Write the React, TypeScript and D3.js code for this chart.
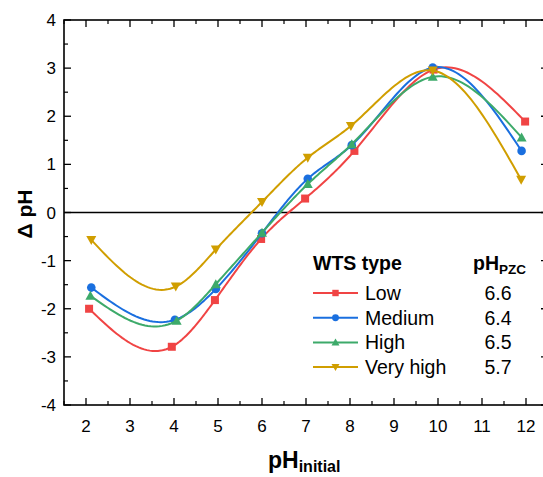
import React from "react";
import * as d3 from "d3";

const xLow = [2.07, 3.95, 4.93, 5.98, 6.98, 8.1, 9.9, 11.98];
const yLow = [-2.0, -2.79, -1.82, -0.55, 0.29, 1.28, 2.97, 1.89];
const xMed = [2.12, 4.02, 4.95, 6.0, 7.04, 8.04, 9.88, 11.9];
const yMed = [-1.56, -2.23, -1.59, -0.43, 0.7, 1.4, 3.01, 1.28];
const xHigh = [2.1, 4.06, 4.95, 6.0, 7.04, 8.04, 9.88, 11.9];
const yHigh = [-1.73, -2.25, -1.49, -0.42, 0.59, 1.42, 2.82, 1.56];
const xVH = [2.12, 4.04, 4.95, 6.0, 7.04, 8.02, 9.88, 11.89];
const yVH = [-0.57, -1.54, -0.77, 0.22, 1.14, 1.8, 2.95, 0.68];

const seriesNames = ["Low", "Medium", "High", "Very high"];
const pzcValues = ["6.6", "6.4", "6.5", "5.7"];
const colors = ["#F04444", "#1A6FDF", "#3DAA6A", "#D09E00"];
const markers = ["square", "circle", "triangleUp", "triangleDown"];
const xTicks = [2, 3, 4, 5, 6, 7, 8, 9, 10, 11, 12];
const yTicks = [-4, -3, -2, -1, 0, 1, 2, 3, 4];

const allX = [xLow, xMed, xHigh, xVH];
const allY = [yLow, yMed, yHigh, yVH];

const L = 64, R = 548, T = 20, B = 405;
const FONT = "Liberation Sans, Arial, sans-serif";

// natural cubic spline y(x), sampled densely for drawing
function splineSamples(xa: number[], ya: number[], steps = 30): [number, number][] {
  const n = xa.length;
  const h: number[] = [];
  for (let i = 0; i < n - 1; i++) h.push(xa[i + 1] - xa[i]);
  const a: number[] = new Array(n).fill(0);
  const b: number[] = new Array(n).fill(1);
  const c: number[] = new Array(n).fill(0);
  const r: number[] = new Array(n).fill(0);
  for (let i = 1; i < n - 1; i++) {
    a[i] = h[i - 1];
    b[i] = 2 * (h[i - 1] + h[i]);
    c[i] = h[i];
    r[i] = 6 * ((ya[i + 1] - ya[i]) / h[i] - (ya[i] - ya[i - 1]) / h[i - 1]);
  }
  const cp = new Array(n).fill(0);
  const dp = new Array(n).fill(0);
  cp[0] = c[0] / b[0];
  dp[0] = r[0] / b[0];
  for (let i = 1; i < n; i++) {
    const m = b[i] - a[i] * cp[i - 1];
    cp[i] = c[i] / m;
    dp[i] = (r[i] - a[i] * dp[i - 1]) / m;
  }
  const M = new Array(n).fill(0);
  M[n - 1] = dp[n - 1];
  for (let i = n - 2; i >= 0; i--) M[i] = dp[i] - cp[i] * M[i + 1];
  const out: [number, number][] = [];
  for (let i = 0; i < n - 1; i++) {
    for (let s = 0; s < steps; s++) {
      const x = xa[i] + (h[i] * s) / steps;
      const A = (xa[i + 1] - x) / h[i];
      const Bc = (x - xa[i]) / h[i];
      const y =
        A * ya[i] +
        Bc * ya[i + 1] +
        ((A * A * A - A) * M[i] + (Bc * Bc * Bc - Bc) * M[i + 1]) * (h[i] * h[i]) / 6;
      out.push([x, y]);
    }
  }
  out.push([xa[n - 1], ya[n - 1]]);
  return out;
}

function Marker({ type, x, y, color, k = 1 }: { type: string; x: number; y: number; color: string; k?: number }) {
  if (type === "square") return <rect x={x - 4 * k} y={y - 4 * k} width={8 * k} height={8 * k} fill={color} />;
  if (type === "circle") return <circle cx={x} cy={y} r={4.3 * k} fill={color} />;
  if (type === "triangleUp")
    return <path d={`M${x},${y - 5 * k} L${x + 5 * k},${y + 4 * k} L${x - 5 * k},${y + 4 * k} Z`} fill={color} />;
  return <path d={`M${x},${y + 5 * k} L${x + 5 * k},${y - 4 * k} L${x - 5 * k},${y - 4 * k} Z`} fill={color} />;
}

export default function App() {
  const xs = d3.scaleLinear().domain([1.5, 12.5]).range([L, R]);
  const ys = d3.scaleLinear().domain([-4, 4]).range([B, T]);
  const line = d3
    .line<[number, number]>()
    .x((d) => xs(d[0]))
    .y((d) => ys(d[1]));

  const minorX = d3.range(1.5, 12.51, 0.5).filter((v) => !Number.isInteger(v));
  const minorY = d3.range(-3.5, 4, 1);

  return (
    <svg width={543} height={477} style={{ position: "absolute", left: 0, top: 0 }} fontFamily={FONT}>
      <defs>
        <clipPath id="plot">
          <rect x={L} y={T} width={R - L} height={B - T} />
        </clipPath>
      </defs>
      <line x1={L} x2={R} y1={ys(0)} y2={ys(0)} stroke="#000" strokeWidth={1.6} />
      <g clipPath="url(#plot)">
        {allX.map((xa, i) => {
          const pts: [number, number][] = xa.map((x, j) => [x, allY[i][j]]);
          return (
            <g key={i}>
              <path d={line(splineSamples(xa, allY[i])) || ""} fill="none" stroke={colors[i]} strokeWidth={2} />
              {pts.map((p, j) => (
                <Marker key={j} type={markers[i]} x={xs(p[0])} y={ys(p[1])} color={colors[i]} />
              ))}
            </g>
          );
        })}
      </g>
      <rect x={L} y={T} width={R - L} height={B - T} fill="none" stroke="#000" strokeWidth={1.6} />
      {xTicks.map((t) => (
        <g key={"x" + t}>
          <line x1={xs(t)} x2={xs(t)} y1={B} y2={B - 7} stroke="#000" strokeWidth={1.3} />
          <line x1={xs(t)} x2={xs(t)} y1={T} y2={T + 7} stroke="#000" strokeWidth={1.3} />
          <text x={xs(t)} y={B + 27} textAnchor="middle" fontSize={17}>
            {t}
          </text>
        </g>
      ))}
      {minorX.map((t) => (
        <g key={"mx" + t}>
          <line x1={xs(t)} x2={xs(t)} y1={B} y2={B - 4} stroke="#000" strokeWidth={1.2} />
          <line x1={xs(t)} x2={xs(t)} y1={T} y2={T + 4} stroke="#000" strokeWidth={1.2} />
        </g>
      ))}
      {yTicks.map((t) => (
        <g key={"y" + t}>
          <line x1={L} x2={L + 7} y1={ys(t)} y2={ys(t)} stroke="#000" strokeWidth={1.3} />
          <line x1={R} x2={R - 7} y1={ys(t)} y2={ys(t)} stroke="#000" strokeWidth={1.3} />
          <text x={L - 8} y={ys(t) + 6} textAnchor="end" fontSize={17}>
            {t}
          </text>
        </g>
      ))}
      {minorY.map((t) => (
        <g key={"my" + t}>
          <line x1={L} x2={L + 4} y1={ys(t)} y2={ys(t)} stroke="#000" strokeWidth={1.2} />
          <line x1={R} x2={R - 4} y1={ys(t)} y2={ys(t)} stroke="#000" strokeWidth={1.2} />
        </g>
      ))}
      <text
        transform={`translate(32, 214) rotate(-90)`}
        textAnchor="middle"
        fontSize={21}
        fontWeight="bold"
      >
        Δ pH
      </text>
      <text x={268} y={468} fontSize={23} fontWeight="bold">
        pH
        <tspan fontSize={16} dy={4}>
          initial
        </tspan>
      </text>
      <text x={313} y={270} fontSize={19.5} fontWeight="bold">
        WTS type
      </text>
      <text x={473} y={270} fontSize={19.5} fontWeight="bold">
        pH
        <tspan fontSize={13.5} dy={4}>
          PZC
        </tspan>
      </text>
      {seriesNames.map((n, i) => {
        const cy = 293 + i * 24.7;
        return (
          <g key={n}>
            <line x1={313} x2={358} y1={cy} y2={cy} stroke={colors[i]} strokeWidth={2} />
            <Marker type={markers[i]} x={335.5} y={cy} color={colors[i]} k={0.8} />
            <text x={365} y={cy + 7} fontSize={19.5}>
              {n}
            </text>
            <text x={498} y={cy + 7} fontSize={19.5} textAnchor="middle">
              {pzcValues[i]}
            </text>
          </g>
        );
      })}
    </svg>
  );
}
